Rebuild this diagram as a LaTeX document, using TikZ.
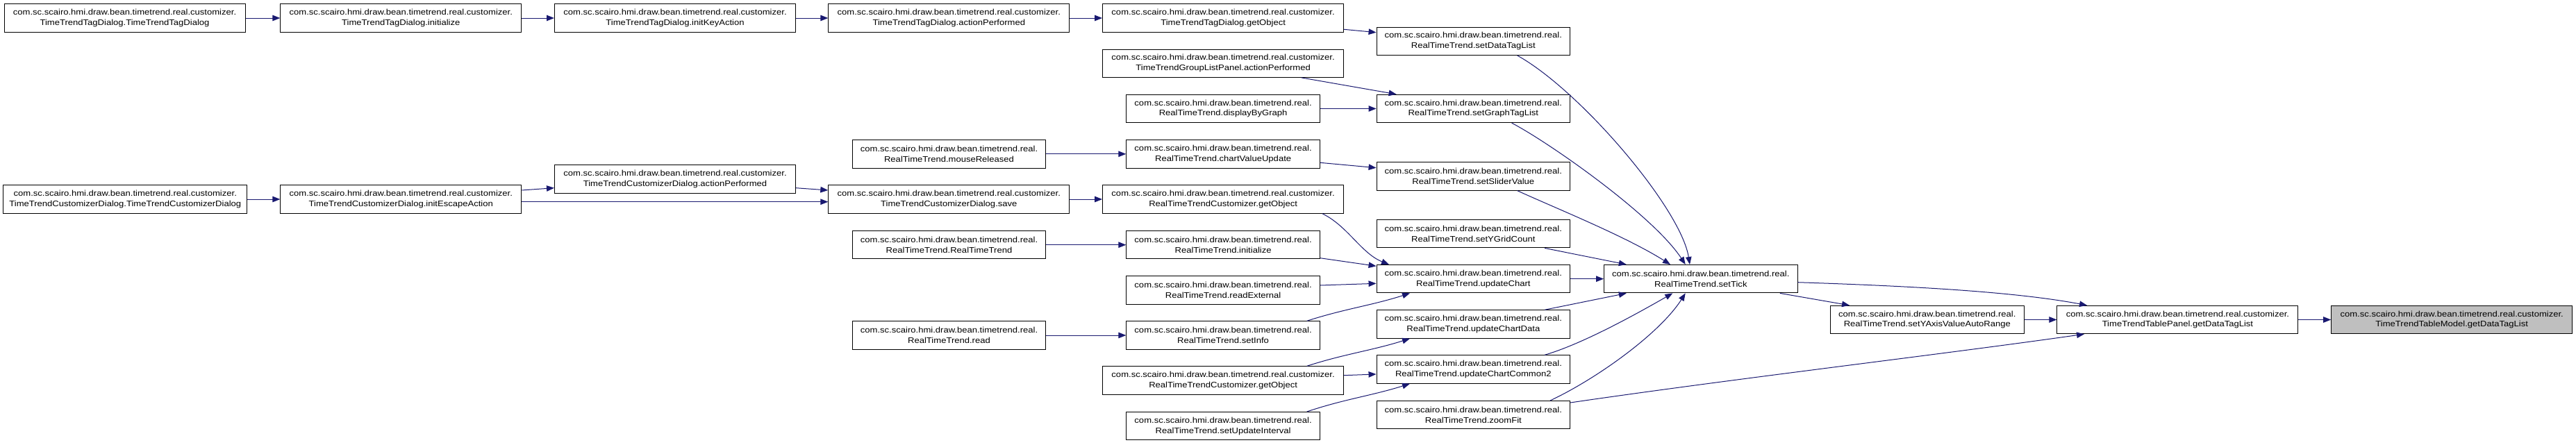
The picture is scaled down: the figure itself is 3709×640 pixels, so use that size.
\documentclass[tikz,border=0pt]{standalone}
\usepackage{fontspec}
\setmainfont{Liberation Sans}[FakeStretch=1.125]
\usetikzlibrary{arrows.meta,calc}
\definecolor{edgeblue}{HTML}{191970}
\definecolor{nodegray}{HTML}{BFBFBF}
\tikzset{
  fn/.style={draw=black, line width=1pt, fill=white, rectangle, inner sep=0pt,
    minimum height=40.4pt, align=center, font=\fontsize{11.6}{14.7}\selectfont},
  wide/.style={fn, minimum width=347pt},
  narrow/.style={fn, minimum width=278.5pt},
  cur/.style={wide, fill=nodegray},
  ed/.style={draw=edgeblue, line width=1pt, -{Triangle[length=11pt,width=8.5pt]}},
}
\newcommand{\cst}{com.sc.scairo.hmi.draw.bean.timetrend.real.customizer.}
\newcommand{\rl}{com.sc.scairo.hmi.draw.bean.timetrend.real.}
\begin{document}
\begin{tikzpicture}[x=1pt,y=-1pt]
\useasboundingbox (0,0) rectangle (3709,640);
% column A
\node[wide] (n1) at (179.5,26) {\cst\\TimeTrendTagDialog.TimeTrendTagDialog};
\node[wide, minimum width=351pt] (n5) at (180.3,287) {\cst\\TimeTrendCustomizerDialog.TimeTrendCustomizerDialog};
% column B
\node[wide] (n2) at (577.3,26) {\cst\\TimeTrendTagDialog.initialize};
\node[wide] (n6) at (577.3,287) {\cst\\TimeTrendCustomizerDialog.initEscapeAction};
% column C
\node[wide] (n3) at (972,26) {\cst\\TimeTrendTagDialog.initKeyAction};
\node[wide] (n7) at (972,257.8) {\cst\\TimeTrendCustomizerDialog.actionPerformed};
% column D
\node[wide] (n4) at (1366.3,26) {\cst\\TimeTrendTagDialog.actionPerformed};
\node[narrow] (n14) at (1366.5,221.8) {\rl\\RealTimeTrend.mouseReleased};
\node[wide] (n8) at (1366.3,287) {\cst\\TimeTrendCustomizerDialog.save};
\node[narrow] (n18) at (1366.5,352.7) {\rl\\RealTimeTrend.RealTimeTrend};
\node[narrow] (n23) at (1366.5,483) {\rl\\RealTimeTrend.read};
% column E
\node[wide] (n9) at (1761.1,26) {\cst\\TimeTrendTagDialog.getObject};
\node[wide] (n11) at (1761.1,91.2) {\cst\\TimeTrendGroupListPanel.actionPerformed};
\node[narrow] (n12) at (1761.1,156.5) {\rl\\RealTimeTrend.displayByGraph};
\node[narrow] (n15) at (1761.1,221.8) {\rl\\RealTimeTrend.chartValueUpdate};
\node[wide] (n17) at (1761.1,287) {\cst\\RealTimeTrendCustomizer.getObject};
\node[narrow] (n19) at (1761.1,352.7) {\rl\\RealTimeTrend.initialize};
\node[narrow] (n22) at (1761.1,417.8) {\rl\\RealTimeTrend.readExternal};
\node[narrow] (n24) at (1761.1,483) {\rl\\RealTimeTrend.setInfo};
\node[wide] (n26) at (1761.1,548) {\cst\\RealTimeTrendCustomizer.getObject};
\node[narrow] (n28) at (1761.1,613.7) {\rl\\RealTimeTrend.setUpdateInterval};
% column F
\node[narrow] (n10) at (2121.3,59.2) {\rl\\RealTimeTrend.setDataTagList};
\node[narrow] (n13) at (2121.3,156.5) {\rl\\RealTimeTrend.setGraphTagList};
\node[narrow] (n16) at (2121.3,253.9) {\rl\\RealTimeTrend.setSliderValue};
\node[narrow] (nyg) at (2121.3,336.7) {\rl\\RealTimeTrend.setYGridCount};
\node[narrow] (n20) at (2121.3,401.7) {\rl\\RealTimeTrend.updateChart};
\node[narrow] (n25) at (2121.3,467) {\rl\\RealTimeTrend.updateChartData};
\node[narrow] (n27) at (2121.3,532) {\rl\\RealTimeTrend.updateChartCommon2};
\node[narrow] (n29) at (2121.3,597.7) {\rl\\RealTimeTrend.zoomFit};
% column G..J
\node[narrow] (n21) at (2448.8,401.7) {\rl\\RealTimeTrend.setTick};
\node[narrow] (n30) at (2774.8,460.5) {\rl\\RealTimeTrend.setYAxisValueAutoRange};
\node[wide] (n31) at (3135.4,460.5) {\cst\\TimeTrendTablePanel.getDataTagList};
\node[cur] (n32) at (3530.2,460.5) {\cst\\TimeTrendTableModel.getDataTagList};
% edges
\draw[ed] (n1.east) -- (n2.west);
\draw[ed] (n2.east) -- (n3.west);
\draw[ed] (n3.east) -- (n4.west);
\draw[ed] (n4.east) -- (n9.west);
\draw[ed] ($(n9.east)+(0,16.3)$) -- ($(n10.west)+(0,-12.5)$);
\draw[ed] ($(n10.south)+(63.3,0)$) .. controls (2275,130) and (2420,300) .. ($(n21.north)+(-15.8,0)$);
\draw[ed] ($(n11.south)+(112.7,0)$) -- ($(n13.north)+(-110.7,0)$);
\draw[ed] (n12.east) -- (n13.west);
\draw[ed] ($(n13.south)+(55.4,0)$) .. controls (2230,205) and (2380,310) .. ($(n21.north)+(-22.1,0)$);
\draw[ed] (n14.east) -- (n15.west);
\draw[ed] ($(n15.east)+(0,12.5)$) -- ($(n16.west)+(0,-12.2)$);
\draw[ed] ($(n16.south)+(63.3,0)$) .. controls (2240,300) and (2340,340) .. ($(n21.north)+(-43.8,0)$);
\draw[ed] (n5.east) -- (n6.west);
\draw[ed] ($(n6.east)+(0,-13)$) -- ($(n7.west)+(0,12.9)$);
\draw[ed] ($(n6.east)+(0,3.7)$) -- ($(n8.west)+(0,3.7)$);
\draw[ed] ($(n7.east)+(0,12.9)$) -- ($(n8.west)+(0,-13)$);
\draw[ed] (n8.east) -- (n17.west);
\draw[ed] ($(n17.south)+(142.7,0)$) .. controls (1940,325) and (1960,365) .. ($(n20.north)+(-121.3,0)$);
\draw[ed] ($(nyg.south)+(102.7,0)$) -- ($(n21.north)+(-107,0)$);
\draw[ed] (n18.east) -- (n19.west);
\draw[ed] ($(n19.east)+(0,19)$) -- ($(n20.west)+(0,-18.4)$);
\draw[ed] ($(n22.east)+(0,-6.8)$) -- ($(n20.west)+(0,6.6)$);
\draw[ed] ($(n24.north)+(120.6,0)$) .. controls (1935,445) and (1975,440) .. ($(n20.south)+(-91.3,0)$);
\draw[ed] (n23.east) -- (n24.west);
\draw[ed] (n20.east) -- (n21.west);
\draw[ed] ($(n25.north)+(102.7,0)$) -- ($(n21.south)+(-107,0)$);
\draw[ed] ($(n26.north)+(120.6,0)$) .. controls (1935,510) and (1975,505) .. ($(n25.south)+(-91.3,0)$);
\draw[ed] ($(n26.east)+(0,-7.3)$) -- ($(n27.west)+(0,7)$);
\draw[ed] ($(n28.north)+(120.6,0)$) .. controls (1935,575) and (1975,570) .. ($(n27.south)+(-91.3,0)$);
\draw[ed] ($(n27.north)+(102.7,0)$) .. controls (2280,495) and (2360,450) .. ($(n21.south)+(-40.5,0)$);
\draw[ed] ($(n29.north)+(110.7,0)$) .. controls (2300,545) and (2390,480) .. ($(n21.south)+(-22.1,0)$);
\draw[ed] ($(n21.south)+(114,0)$) -- ($(n30.north)+(-111.8,0)$);
\draw[ed] ($(n21.east)+(0,5)$) .. controls (2750,412) and (2900,420) .. ($(n31.north)+(-130.4,0)$);
\draw[ed] (n30.east) -- (n31.west);
\draw[ed] ($(n29.east)+(0,-17.7)$) .. controls (2500,545) and (2800,510) .. ($(n31.south)+(-134.4,0)$);
\draw[ed] (n31.east) -- (n32.west);
\end{tikzpicture}
\end{document}
